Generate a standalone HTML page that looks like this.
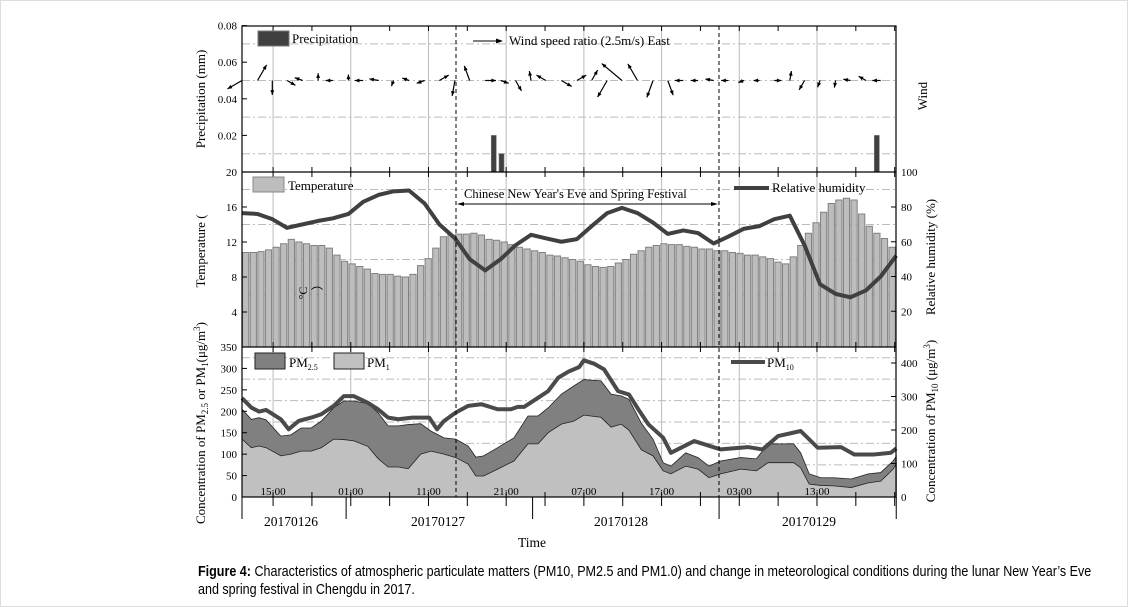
<!DOCTYPE html>
<html><head><meta charset="utf-8">
<style>
body{margin:0;background:#fff;}
#wrap{position:relative;width:1128px;height:607px;background:#fff;border:1px solid #ddd;box-sizing:border-box;overflow:hidden}
svg text{font-family:"Liberation Serif",serif;fill:#000}
.cap{position:absolute;left:197px;top:562px;white-space:nowrap;font-family:"Liberation Sans",sans-serif;font-size:14.5px;line-height:18px;color:#000;transform:scaleX(0.865);transform-origin:0 0}
</style></head>
<body>
<div id="wrap">
<svg id="chart" width="1128" height="560"></svg>
<div class="cap"><b>Figure 4:</b> Characteristics of atmospheric particulate matters (PM10, PM2.5 and PM1.0) and change in meteorological conditions during the lunar New Year’s Eve<br>and spring festival in Chengdu in 2017.</div>
</div>
<script>
// ---- data ----
const tempValues=[10.8,10.8,10.9,11.1,11.4,11.8,12.3,12.0,11.8,11.6,11.6,11.3,10.5,9.8,9.5,9.2,8.9,8.4,8.3,8.3,8.1,8.0,8.3,9.3,10.1,11.3,12.6,12.8,12.9,12.9,13.0,12.8,12.3,12.2,12.0,11.7,11.4,11.2,11.0,10.8,10.5,10.4,10.2,10.0,9.8,9.4,9.2,9.1,9.2,9.6,10.0,10.6,11.0,11.4,11.6,11.8,11.7,11.7,11.5,11.4,11.2,11.2,11.0,11.0,10.8,10.7,10.5,10.5,10.3,10.1,9.7,9.5,10.3,11.6,13.0,14.2,15.4,16.4,16.8,17.0,16.8,15.2,13.8,13.0,12.4,11.4];
const rhHours=[0,2,3.9,5.8,7.8,9.8,11.7,13.7,15.6,17.6,19.5,21.5,23.5,25.4,27.4,29.3,31.3,33.3,35.2,37.2,39.1,41.1,43.1,45.0,47.0,48.9,50.9,52.9,54.8,56.8,58.7,60.7,62.6,64.6,66.6,68.5,70.5,72.4,74.4,76.4,78.3,80.3,82.2,84.2];
const rhValues=[76.5,76,73,68,70,72,73.5,76,83,87,89,89.5,82,70,62,50,43.5,50,58,64,62,60,61.5,69,76.5,79.5,76.5,71,64.5,66.5,65,59,63,67.5,69,73,75,58,35.5,30,28,32,40,52];
const windAngles=[210,60,270,-30,160,90,180,90,180,170,250,160,200,30,260,110,0,-20,-60,100,150,-30,30,60,240,140,120,250,-70,180,180,170,180,200,180,0,80,240,250,260,170,150,180];
const windSpeeds=[1.4,1.5,1.2,0.8,0.7,0.6,0.6,0.5,0.7,0.8,0.5,0.6,0.7,0.9,1.3,1.3,0.9,0.7,1.0,0.8,0.9,1.0,0.9,1.0,1.6,2.2,1.6,1.5,1.3,0.7,0.6,0.7,0.6,0.5,0.5,0.6,0.8,0.9,0.6,0.6,0.6,0.7,0.7];
const precipHours=[32.4,33.4,81.7];
const precipValues=[0.02,0.01,0.02];
const pmHours=[0,1.2,2.2,3.1,5.0,6.3,7.6,8.9,10.2,11.8,13.1,14.4,16.2,17.5,18.8,20.1,21.4,23.0,24.3,26.0,27.5,29.1,30.1,31.1,32.9,35.0,36.8,38.1,39.4,41.1,42.7,44.0,46.2,47.5,48.8,49.8,51.4,52.9,54.2,55.2,57.1,58.7,60.1,61.6,64.2,66.2,67.7,71.0,71.9,73.0,74.5,76.2,78.4,80.6,82.2,83.8,84.2];
const pm25Values=[205,181,185,180,142,145,161,161,177,208,224,224,218,197,166,166,169,171,154,138,135,119,93,96,115,138,189,189,208,240,259,274,271,240,236,228,172,135,80,72,103,92,72,84,92,89,124,124,103,54,45,45,42,54,57,84,95];
const pm1Values=[135,115,119,115,96,100,107,107,115,135,134,131,118,90,70,70,66,100,107,100,92,77,49,49,65,84,124,124,150,170,177,191,186,163,170,156,110,96,61,54,72,65,45,54,65,61,80,80,68,30,27,26,22,33,37,65,78];
const pm10Hours=[0,1.2,2.2,3.1,5.0,6.0,7.3,8.9,10.2,11.8,13.1,14.4,16.2,17.5,18.8,20.1,21.9,24.1,25.1,26.0,27.5,29.1,30.8,32.9,34.6,35.5,36.3,38.1,39.4,40.7,42.0,43.4,44.0,45.3,46.6,48.4,49.8,51.0,52.3,54.2,55.2,58.2,61.6,65.1,67.0,69.0,71.9,74.1,77.1,78.8,81.3,83.5,84.2];
const pm10Values=[295,267,255,260,232,202,227,237,247,272,301,301,281,262,237,232,237,237,202,227,252,272,277,262,262,269,269,296,316,356,374,388,408,398,381,316,306,262,217,177,132,167,142,149,142,182,197,147,149,127,127,132,145];
const timeLabels=["15:00","01:00","11:00","21:00","07:00","17:00","03:00","13:00"];
const dayLabels=["20170126","20170127","20170128","20170129"];

// ---- geometry ----
const X0=241,X1=895,PXH=7.77;
const xH=h=>X0+h*PXH;
const yPre=v=>171-v/0.02*36.6;
const yTemp=v=>346-v*8.75;
const yRH=v=>345-v*1.7375;
const yPM=v=>496-v*0.4286;
const yPM10=v=>496-v*0.335;
const svg=document.getElementById('chart');
const NS='http://www.w3.org/2000/svg';
function mk(tag,attrs,parent){const e=document.createElementNS(NS,tag);for(const k in attrs)e.setAttribute(k,attrs[k]);(parent||svg).appendChild(e);return e;}
function txt(s,x,y,size,anchor,parent,extra){const t=mk('text',Object.assign({x:x,y:y,'font-size':size,'text-anchor':anchor||'start'},extra||{}),parent);t.textContent=s;return t;}

const grid=mk('g',{});


for(let k=0;k<8;k++){const x=xH(4+10*k);const l=mk('line',{x1:x,x2:x,y1:25,y2:496,stroke:'#bbb','stroke-width':1},grid);}
[0.07,0.05,0.03,0.01].forEach(v=>{const l=mk('line',{x1:X0,x2:X1,y1:yPre(v),y2:yPre(v),stroke:'#bbb','stroke-dasharray':'8,3,2,3'},grid);});
[6,10,14,18].forEach(v=>{const l=mk('line',{x1:X0,x2:X1,y1:yTemp(v),y2:yTemp(v),stroke:'#bbb','stroke-dasharray':'8,3,2,3'},grid);});
[75,125,175,225,275,325].forEach(v=>{const l=mk('line',{x1:X0,x2:X1,y1:yPM(v),y2:yPM(v),stroke:'#bbb','stroke-dasharray':'8,3,2,3'},grid);});

precipHours.forEach((h,i)=>{const y=yPre(precipValues[i]);const r=mk('rect',{x:xH(h)-2.5,y:y,width:5,height:171-y,fill:'#404040',stroke:'#777','stroke-width':0.6});});

const wg=mk('g',{});


windAngles.forEach((a,i)=>{const x=xH(rhHours[i]),y=yPre(0.05);const L=windSpeeds[i]/2.5*30;const r=a*Math.PI/180;const ex=x+L*Math.cos(r),ey=y-L*Math.sin(r);
 const l=mk('line',{x1:x,y1:y,x2:ex,y2:ey,stroke:'#000','stroke-width':1.2},wg);
 const b=r+Math.PI;const p=[[ex,ey],[ex+5*Math.cos(b+0.4),ey-5*Math.sin(b+0.4)],[ex+5*Math.cos(b-0.4),ey-5*Math.sin(b-0.4)]];
 const hd=mk('polygon',{points:p.map(q=>q.join(',')).join(' '),fill:'#000'},wg);});

const band=(X1-X0)/tempValues.length;
tempValues.forEach((v,i)=>{const y=yTemp(v);const r=mk('rect',{x:X0+i*band+0.6,y:y,width:band-1.4,height:346-y,fill:'#bdbdbd',stroke:'#808080','stroke-width':1});});

const rh=mk('polyline',{points:rhHours.map((h,i)=>xH(h)+','+yRH(rhValues[i])).join(' '),fill:'none',stroke:'#404040','stroke-width':4,'stroke-linejoin':'round'});



function area(vals,fill,name){const pts=pmHours.map((h,i)=>xH(h)+','+yPM(vals[i]));pts.push(xH(pmHours[pmHours.length-1])+','+496);pts.unshift(X0+','+496);const p=mk('polygon',{points:pts.join(' '),fill:fill,stroke:'#222','stroke-width':0.8});}
area(pm25Values,'#808080','pm25-area');
area(pm1Values,'#c0c0c0','pm1-area');
const pm10=mk('polyline',{points:pm10Hours.map((h,i)=>xH(h)+','+yPM10(pm10Values[i])).join(' '),fill:'none',stroke:'#4a4a4a','stroke-width':4,'stroke-linejoin':'round'});



const fr=mk('rect',{x:X0,y:25,width:X1-X0,height:471,fill:'none',stroke:'#000','stroke-width':1.2});


[171,346].forEach(y=>{const l=mk('line',{x1:X0,x2:X1,y1:y,y2:y,stroke:'#000','stroke-width':1.2});});
[455,718].forEach(x=>{const l=mk('line',{x1:x,x2:x,y1:25,y2:496,stroke:'#000','stroke-dasharray':'4,3'});});

for(let h=4;h<=84;h+=5){const x=xH(h);[[25,30],[166,176],[341,351],[491,505]].forEach(s=>{mk('line',{x1:x,x2:x,y1:s[0],y2:s[1],stroke:'#000'});});}
[0,13.4,37.4,61.4,84.2].forEach(h=>{mk('line',{x1:xH(h),x2:xH(h),y1:496,y2:518,stroke:'#000'});});
timeLabels.forEach((s,k)=>{const t=txt(s,xH(4+10*k),494,11,'middle');});
[290,437,620,808].forEach((x,k)=>{const t=txt(dayLabels[k],x,525,13.5,'middle');});
const tt=txt('Time',531,546,13.5,'middle');

function ytick(y,label,side){const x=side==='l'?X0:X1;mk('line',{x1:x,x2:side==='l'?x+5:x-5,y1:y,y2:y,stroke:'#000'});if(label!==null){const t=txt(label,side==='l'?236:900,y+4,11,side==='l'?'end':'start');}}
[['0.08',0.08],['0.06',0.06],['0.04',0.04],['0.02',0.02]].forEach(a=>ytick(yPre(a[1]),a[0],'l'));
ytick(171,'20','l');
[16,12,8,4].forEach(v=>ytick(yTemp(v),String(v),'l'));
ytick(346,'350','l');
[300,250,200,150,100,50,0].forEach(v=>ytick(yPM(v),String(v),'l'));
ytick(171,'100','r');
[80,60,40,20].forEach(v=>ytick(yRH(v),String(v),'r'));
[400,300,200,100,0].forEach(v=>ytick(yPM10(v),String(v),'r'));

function rot(s,x,y,size,name){const t=txt(s,x,y,size,'middle',svg,{transform:'rotate(-90 '+x+' '+y+')'});return t;}
rot('Precipitation (mm)',204,98,13,'precipitation-axis-title');
rot('Temperature (',204,250,13,'temperature-axis-title');
rot('Wind',926,95,13,'wind-axis-title');
rot('Relative humidity (%)',934,256,13,'rh-axis-title');
const t1=rot('',204,422,13,'pm-left-axis-title');t1.innerHTML='Concentration of PM<tspan font-size="9" dy="3">2.5</tspan><tspan dy="-3"> or PM</tspan><tspan font-size="9" dy="3">1</tspan><tspan dy="-3">(μg/m</tspan><tspan font-size="9" dy="-5">3</tspan><tspan dy="5">)</tspan>';
const t2=rot('',934,420,13,'pm10-axis-title');t2.innerHTML='Concentration of PM<tspan font-size="9" dy="3">10</tspan><tspan dy="-3"> (μg/m</tspan><tspan font-size="9" dy="-5">3</tspan><tspan dy="5">)</tspan>';
txt('°C',302,296,12,'middle',svg,{transform:'rotate(-90 302 292)'});
txt('⌒',316,296,12,'middle');

const lg=mk('g',{});


mk('rect',{x:257,y:30,width:31,height:15,fill:'#404040',stroke:'#777'},lg);
txt('Precipitation',291,42,13,'start',lg);
mk('line',{x1:472,x2:497,y1:40,y2:40,stroke:'#000'},lg);
mk('polygon',{points:'502,40 495,37.5 495,42.5',fill:'#000'},lg);
txt('Wind speed ratio (2.5m/s)   East',508,44,13,'start',lg,{'xml:space':'preserve'});
mk('rect',{x:252,y:176,width:31,height:15,fill:'#bdbdbd',stroke:'#888'},lg);
txt('Temperature',287,189,13,'start',lg);
mk('line',{x1:733,x2:768,y1:187,y2:187,stroke:'#404040','stroke-width':4},lg);
txt('Relative humidity',771,191,13,'start',lg);
txt("Chinese New Year's Eve and Spring Festival",463,197,12.5,'start',lg);
mk('line',{x1:458,x2:715,y1:203,y2:203,stroke:'#000'},lg);
mk('polygon',{points:'456,203 463,201 463,205',fill:'#000'},lg);
mk('polygon',{points:'717,203 710,201 710,205',fill:'#000'},lg);
mk('rect',{x:254,y:352,width:30,height:16,fill:'#808080',stroke:'#222'},lg);
const p25=txt('',288,366,13,'start',lg);p25.innerHTML='PM<tspan font-size="8" dy="3">2.5</tspan>';
mk('rect',{x:333,y:352,width:30,height:16,fill:'#c0c0c0',stroke:'#222'},lg);
const p1=txt('',366,366,13,'start',lg);p1.innerHTML='PM<tspan font-size="8" dy="3">1</tspan>';
mk('line',{x1:730,x2:764,y1:361,y2:361,stroke:'#4a4a4a','stroke-width':4},lg);
const p10=txt('',766,366,13,'start',lg);p10.innerHTML='PM<tspan font-size="8" dy="3">10</tspan>';
</script>
</body></html>
